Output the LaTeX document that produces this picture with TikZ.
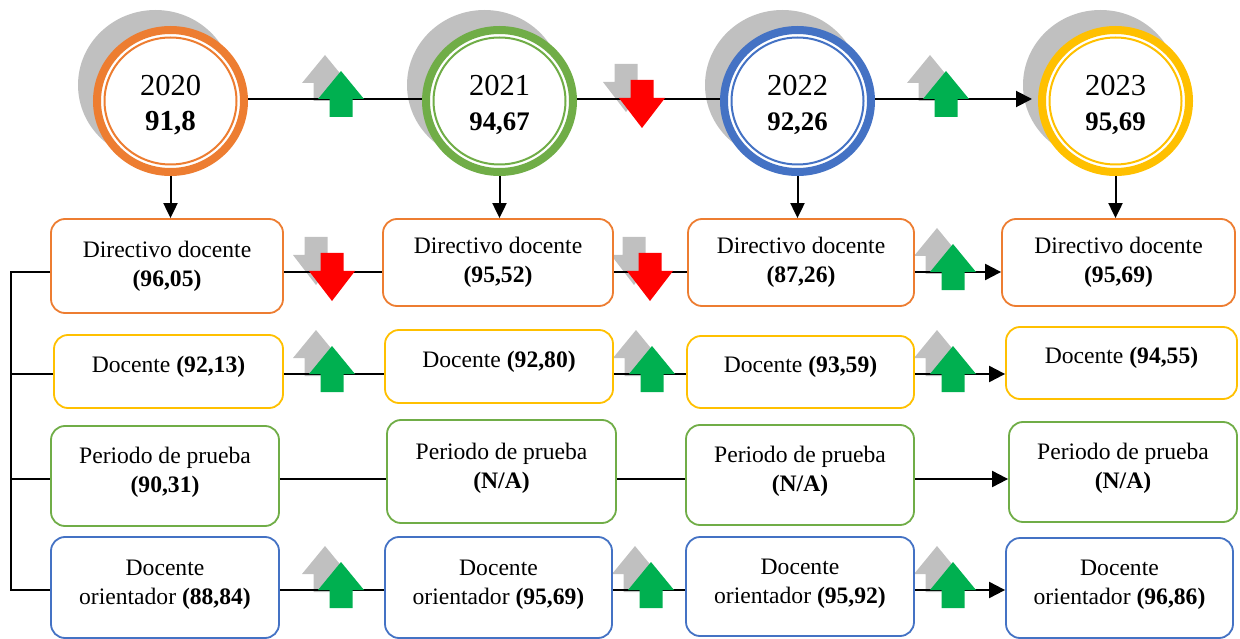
\documentclass[tikz,border=0pt]{standalone}
\usepackage{fontspec}
\setmainfont{Liberation Serif}
\usetikzlibrary{shapes.geometric,arrows.meta,calc}
\pgfdeclarelayer{shadow}
\pgfdeclarelayer{lines}
\pgfsetlayers{shadow,lines,main}
\definecolor{corange}{HTML}{ED7D31}
\definecolor{cyellow}{HTML}{FFC000}
\definecolor{cgreen}{HTML}{70AD47}
\definecolor{cblue}{HTML}{4472C4}
\definecolor{upgreen}{HTML}{00B050}
\definecolor{downred}{HTML}{FF0000}
\definecolor{shgray}{HTML}{C0C0C0}
\begin{document}
\begin{tikzpicture}[x=1pt,y=-1pt,
  yearcirc/.style={ellipse, draw=#1, line width=8pt, fill=white,
    minimum width=147pt, minimum height=142pt, inner sep=0pt, align=center,
    text height=60pt, text depth=1pt, font=\fontsize{30.5}{35}\selectfont},
  ring/.style={draw=#1, line width=2pt},
  box/.style={draw=#1, line width=1.8pt, rounded corners=14pt, fill=white,
    inner sep=0pt, align=center, font=\fontsize{23.6}{29}\selectfont},
  rowone/.style={text height=45pt, text depth=4pt},
  rowtwo/.style={text height=16pt, text depth=15pt},
  rowlow/.style={text height=45pt, text depth=12pt},
  conn/.style={draw=black, line width=2pt},
  arr/.style={conn, -{Triangle[length=16pt,width=16pt]}},
  vinc/.style={conn, -{Triangle[length=15pt,width=14pt]}}
]
\useasboundingbox (0,0) rectangle (1240,639);

% row reference coordinates
\coordinate (t) at (0,99);
\coordinate (r1) at (0,272);
\coordinate (r2) at (0,374);
\coordinate (r3) at (0,479);
\coordinate (r4) at (0,590);
\coordinate (lx) at (11,0);

% year circles
\node[yearcirc=corange] (c1) at (170.5,101) {2020\\{\fontsize{29}{35}\selectfont\bfseries 91,8}};
\node[yearcirc=cgreen]  (c2) at (499.5,101) {2021\\{\fontsize{26.8}{35}\selectfont\bfseries 94,67}};
\node[yearcirc=cblue]   (c3) at (797.5,101) {2022\\{\fontsize{26.8}{35}\selectfont\bfseries 92,26}};
\node[yearcirc=cyellow] (c4) at (1115.5,101) {2023\\{\fontsize{26.8}{35}\selectfont\bfseries 95,69}};
\draw[ring=corange] (c1) ellipse [x radius=66pt, y radius=63.5pt];
\draw[ring=cgreen]  (c2) ellipse [x radius=66pt, y radius=63.5pt];
\draw[ring=cblue]   (c3) ellipse [x radius=66pt, y radius=63.5pt];
\draw[ring=cyellow] (c4) ellipse [x radius=66pt, y radius=63.5pt];

% row 1: Directivo docente
\node[box=corange, rowone, minimum width=232pt, minimum height=94pt] (b11) at (167,266) {Directivo docente\\\textbf{(96,05)}};
\node[box=corange, rowone, minimum width=230pt, minimum height=87pt] (b12) at (498,262.5) {Directivo docente\\\textbf{(95,52)}};
\node[box=corange, rowone, minimum width=226pt, minimum height=87pt] (b13) at (801,262.5) {Directivo docente\\\textbf{(87,26)}};
\node[box=corange, rowone, minimum width=233pt, minimum height=87pt] (b14) at (1118.5,262.5) {Directivo docente\\\textbf{(95,69)}};

% row 2: Docente
\node[box=cyellow, rowtwo, minimum width=229pt, minimum height=73pt] (b21) at (168.5,371.5) {Docente \textbf{(92,13)}};
\node[box=cyellow, rowtwo, minimum width=228pt, minimum height=73pt] (b22) at (499,366.5) {Docente \textbf{(92,80)}};
\node[box=cyellow, rowtwo, minimum width=227pt, minimum height=72pt] (b23) at (800.5,372) {Docente \textbf{(93,59)}};
\node[box=cyellow, rowtwo, minimum width=231pt, minimum height=72pt] (b24) at (1121.5,363) {Docente \textbf{(94,55)}};

% row 3: Periodo de prueba
\node[box=cgreen, rowlow, minimum width=228pt, minimum height=100pt] (b31) at (165,476) {Periodo de prueba\\\textbf{(90,31)}};
\node[box=cgreen, rowlow, minimum width=229pt, minimum height=103pt] (b32) at (501.5,471.5) {Periodo de prueba\\\textbf{(N/A)}};
\node[box=cgreen, rowlow, minimum width=228pt, minimum height=100pt] (b33) at (800,475) {Periodo de prueba\\\textbf{(N/A)}};
\node[box=cgreen, rowlow, minimum width=228pt, minimum height=100pt] (b34) at (1123,472) {Periodo de prueba\\\textbf{(N/A)}};

% row 4: Docente orientador
\node[box=cblue, rowlow, minimum width=228pt, minimum height=101pt] (b41) at (165,587.5) {Docente\\orientador \textbf{(88,84)}};
\node[box=cblue, rowlow, minimum width=227pt, minimum height=101pt] (b42) at (498.5,587.5) {Docente\\orientador \textbf{(95,69)}};
\node[box=cblue, rowlow, minimum width=228pt, minimum height=99pt] (b43) at (800,586.5) {Docente\\orientador \textbf{(95,92)}};
\node[box=cblue, rowlow, minimum width=227pt, minimum height=100pt] (b44) at (1119.5,588) {Docente\\orientador \textbf{(96,86)}};

% shadows and gray indicator arrows
\begin{pgfonlayer}{shadow}
\foreach \n in {c1,c2,c3,c4}
  \fill[shgray] ($(\n)+(-15,-16)$) ellipse [x radius=77.5pt, y radius=75pt];
\foreach \x/\y in {341/99, 946/99, 953/272, 332/374, 652/374, 953/374, 341/590, 651/590, 953/590}
  \fill[shgray, shift={(\x-16,\y-16)}] (0,-28) -- (23,0) -- (11.5,0) -- (11.5,18) -- (-11.5,18) -- (-11.5,0) -- (-23,0) -- cycle;
\foreach \x/\y in {642/99, 332/272, 650/272}
  \fill[shgray, shift={(\x-16,\y-16)}] (0,29) -- (23,-1) -- (11.5,-1) -- (11.5,-19) -- (-11.5,-19) -- (-11.5,-1) -- (-23,-1) -- cycle;
\end{pgfonlayer}

% connectors
\begin{pgfonlayer}{lines}
\draw[conn] (c1.east |- t) -- (c2.west |- t);
\draw[conn] (c2.east |- t) -- (c3.west |- t);
\draw[arr, shorten >=6pt] (c3.east |- t) -- (c4.west |- t);
\end{pgfonlayer}
\draw[vinc] (c1.south) -- (c1.south |- b11.north);
\draw[vinc] (c2.south) -- (c2.south |- b12.north);
\draw[vinc] (c3.south) -- (c3.south |- b13.north);
\draw[vinc] (c4.south) -- (c4.south |- b14.north);

\draw[conn] (b11.east |- r1) -- (b12.west |- r1);
\draw[conn] (b12.east |- r1) -- (b13.west |- r1);
\draw[arr]  (b13.east |- r1) -- (b14.west |- r1);
\draw[conn] (b21.east |- r2) -- (b22.west |- r2);
\draw[conn] (b22.east |- r2) -- (b23.west |- r2);
\draw[arr]  (b23.east |- r2) -- (b24.west |- r2);
\draw[conn] (b31.east |- r3) -- (b32.west |- r3);
\draw[conn] (b32.east |- r3) -- (b33.west |- r3);
\draw[arr]  (b33.east |- r3) -- (b34.west |- r3);
\draw[conn] (b41.east |- r4) -- (b42.west |- r4);
\draw[conn] (b42.east |- r4) -- (b43.west |- r4);
\draw[arr]  (b43.east |- r4) -- (b44.west |- r4);

% left bracket
\draw[conn] (b11.west |- r1) -| (lx |- r4) -- (b41.west |- r4);
\draw[conn] (lx |- r2) -- (b21.west |- r2);
\draw[conn] (lx |- r3) -- (b31.west |- r3);

% coloured indicator arrows
\foreach \x/\y in {341/99, 946/99, 953/272, 332/374, 652/374, 953/374, 341/590, 651/590, 953/590}
  \fill[upgreen, shift={(\x,\y)}] (0,-28) -- (23,0) -- (11.5,0) -- (11.5,18) -- (-11.5,18) -- (-11.5,0) -- (-23,0) -- cycle;
\foreach \x/\y in {642/99, 332/272, 650/272}
  \fill[downred, shift={(\x,\y)}] (0,29) -- (23,-1) -- (11.5,-1) -- (11.5,-19) -- (-11.5,-19) -- (-11.5,-1) -- (-23,-1) -- cycle;
\end{tikzpicture}
\end{document}
